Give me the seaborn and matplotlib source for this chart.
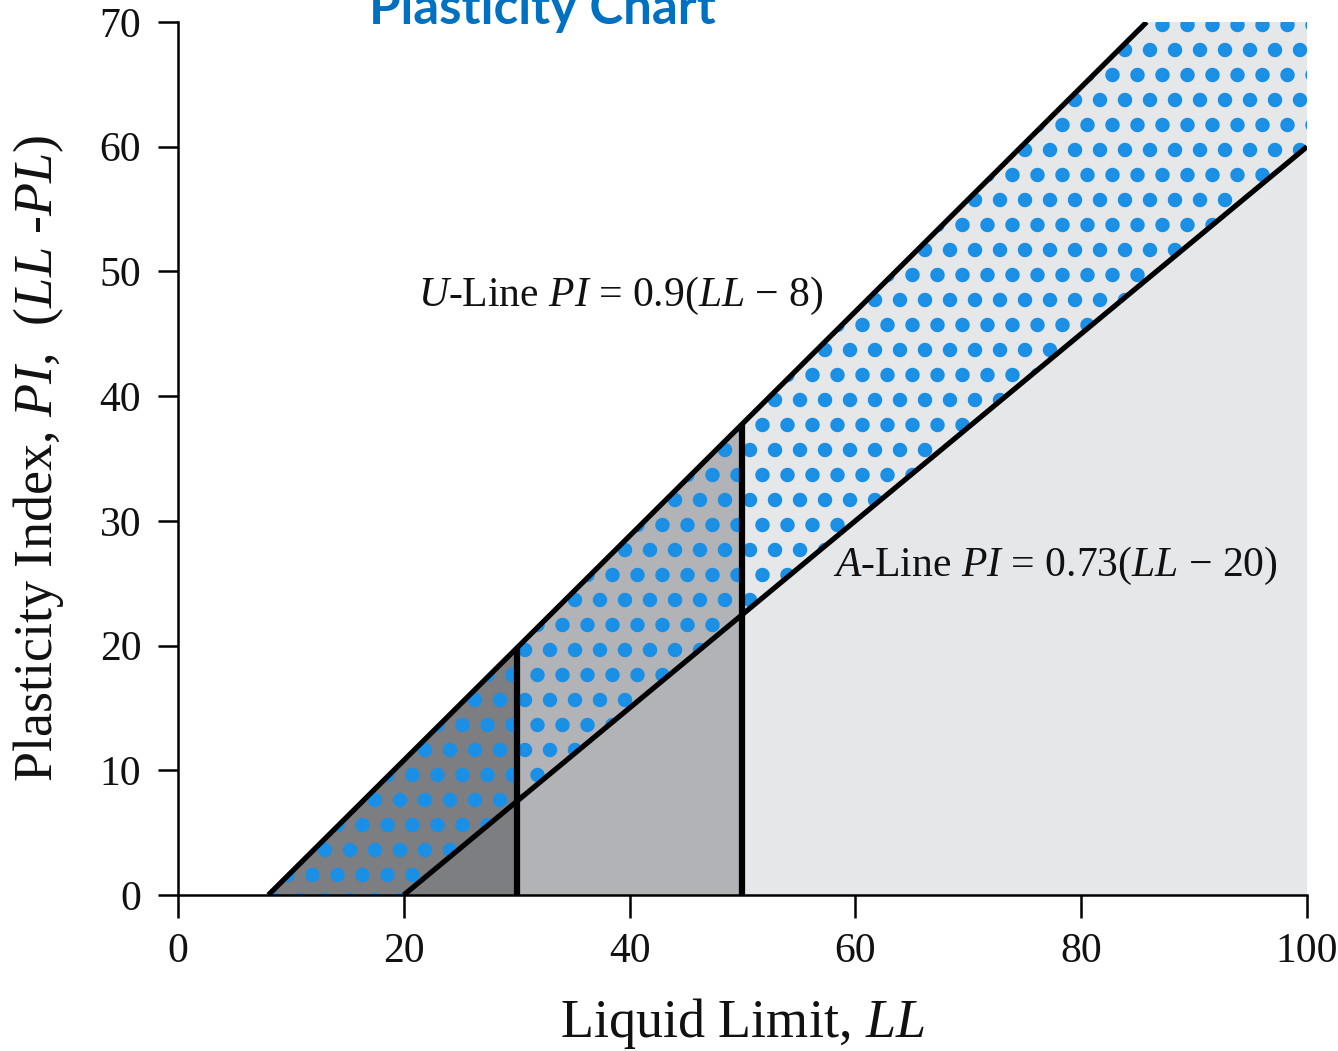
import numpy as np
import pandas as pd
import matplotlib
matplotlib.use("Agg")
import matplotlib.pyplot as plt
import seaborn as sns

# ---- data ----
ll = np.array([8, 20, 30, 50, 85.8, 100])          # liquid limit breakpoints
u_pi = np.array([0, 10.8, 19.8, 37.8, 70, 70])      # U-line PI (clipped at top)
a_pi = np.array([0, 0, 7.5, 22.4, 49.3, 60])        # A-line PI (0 left of LL=20)

u_line_ll = [8, 85.8]
u_line_pi = [0, 70]
a_line_ll = [20, 100]
a_line_pi = [0, 60]

zone_edges = [(8, 30), (30, 50), (50, 100)]
zone_colors = ["#7d7e82", "#b2b3b6", "#e6e7e9"]

divider_ll = [30, 50]
divider_top = [19.8, 37.8]

x_ticks = [0, 20, 40, 60, 80, 100]
y_ticks = [0, 10, 20, 30, 40, 50, 60, 70]

title = "Plasticity Chart"
u_label = r"$U$-Line $PI$ = 0.9($LL$ − 8)"
a_label = r"$A$-Line $PI$ = 0.73($LL$ − 20)"
x_label = r"Liquid Limit, $LL$"
y_label = r"Plasticity Index, $PI$,  ($LL$ -$PL$)"

# ---- style ----
DPI = 150
sns.set_theme(style="ticks")
plt.rcParams["font.family"] = ["Liberation Serif", "DejaVu Serif"]
plt.rcParams["mathtext.fontset"] = "custom"
plt.rcParams["mathtext.rm"] = "Liberation Serif"
plt.rcParams["mathtext.it"] = "Liberation Serif:italic"
plt.rcParams["hatch.linewidth"] = 4.5

fig = plt.figure(figsize=(1339 / DPI, 1051 / DPI), dpi=DPI)
ax = fig.add_axes([178 / 1339, 1 - 895 / 1051, (1307 - 178) / 1339, (895 - 22) / 1051])

# grey zones under the U-line
for (lo, hi), col in zip(zone_edges, zone_colors):
    mask = (ll >= lo) & (ll <= hi)
    ax.fill_between(ll, 0, u_pi, where=mask, facecolor=col, edgecolor="none",
                    linewidth=0, zorder=1)

# speckled band between A-line and U-line
band = ax.fill_between(ll, a_pi, u_pi, facecolor="none", edgecolor="#1a8fe6",
                       linewidth=0, hatch=".", zorder=2)

# U and A lines
df_u = pd.DataFrame({"LL": u_line_ll, "PI": u_line_pi})
df_a = pd.DataFrame({"LL": a_line_ll, "PI": a_line_pi})
sns.lineplot(data=df_u, x="LL", y="PI", ax=ax, color="black", linewidth=2.5,
             zorder=4, solid_capstyle="butt")
sns.lineplot(data=df_a, x="LL", y="PI", ax=ax, color="black", linewidth=2.5,
             zorder=4, solid_capstyle="butt")

# vertical dividers
ax.vlines(divider_ll, 0, divider_top, colors="black", linewidth=3.0, zorder=4)

ax.text(21.3, 48.0, u_label, fontsize=20, ha="left", va="center", color="#111111")
ax.text(58.0, 26.4, a_label, fontsize=20, ha="left", va="center", color="#111111")

ax.set_xlim(0, 100)
ax.set_ylim(0, 70)
ax.set_xticks(x_ticks)
ax.set_yticks(y_ticks)
ax.set_facecolor("white")
sns.despine(ax=ax)
for s in ["left", "bottom"]:
    ax.spines[s].set_linewidth(1.2)
    ax.spines[s].set_color("black")
    ax.spines[s].set_zorder(5)
ax.tick_params(axis="both", direction="out", width=1.2, colors="black",
               labelsize=20, labelcolor="#111111")
ax.tick_params(axis="y", length=9.6, pad=8)
ax.tick_params(axis="x", length=11, pad=7)

ax.set_xlabel(x_label, fontsize=26, color="#111111", labelpad=12)
ax.set_ylabel(y_label, fontsize=26, color="#111111", labelpad=16)

fig.text(542 / 1339, 1 - 24 / 1051, title, fontsize=24.5, fontweight="bold",
         family=["Lato", "DejaVu Sans"], color="#0070c0", ha="center", va="baseline")

fig.savefig("out.png", dpi=DPI)
